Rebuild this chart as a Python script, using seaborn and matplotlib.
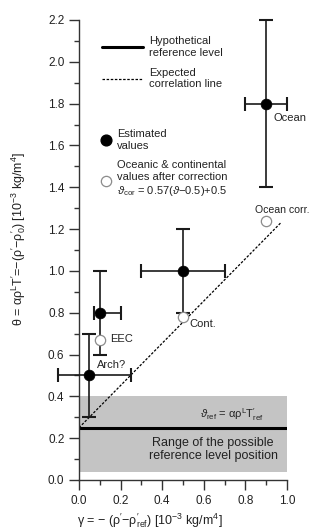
import matplotlib
matplotlib.use("Agg")
import matplotlib.pyplot as plt
import seaborn as sns
import pandas as pd
from matplotlib.ticker import MultipleLocator

# ---- data ----
names = ["Ocean", "Cont.", "EEC", "Arch?"]
gamma = [0.9, 0.5, 0.1, 0.05]
theta = [1.8, 1.0, 0.8, 0.5]
gamma_lo = [0.8, 0.3, 0.07, -0.1]
gamma_hi = [1.0, 0.7, 0.2, 0.25]
theta_lo = [1.4, 0.8, 0.6, 0.3]
theta_hi = [2.2, 1.2, 1.0, 0.7]

corr_names = ["Ocean corr.", "Cont.", "EEC"]
corr_gamma = [0.9, 0.5, 0.1]
corr_theta = [1.24, 0.78, 0.67]

ref_level = 0.25
band_lo, band_hi = 0.04, 0.40
corr_line_x = [0.0, 0.97]
corr_line_y = [0.25, 1.23]

x_ticks = [0.0, 0.2, 0.4, 0.6, 0.8, 1.0]
y_ticks = [0.0, 0.2, 0.4, 0.6, 0.8, 1.0, 1.2, 1.4, 1.6, 1.8, 2.0, 2.2]

sns.set_style("ticks")
plt.rcParams["font.family"] = ["Liberation Sans", "DejaVu Sans"]
plt.rcParams["mathtext.fontset"] = "custom"
plt.rcParams["mathtext.rm"] = "Liberation Sans"
plt.rcParams["mathtext.it"] = "Liberation Sans:italic"
plt.rcParams["mathtext.bf"] = "Liberation Sans:bold"

TXT = "#222222"
fig = plt.figure(figsize=(3.23, 5.29), dpi=100)
ax = fig.add_axes([79/323, 49/529, 208/323, 460/529])

# band and reference level
ax.fill_between([0, 1.0], band_lo, band_hi, color="#c4c4c4", lw=0, zorder=0)
ax.plot([0, 1.0], [ref_level, ref_level], color="black", lw=2.2, zorder=2)

# correlation line
ax.plot(corr_line_x, corr_line_y, color="black", lw=0.9, ls=(0, (2, 1.3)), zorder=2)

# error bars
df = pd.DataFrame({"name": names, "gamma": gamma, "theta": theta})
xerr = [[g - lo for g, lo in zip(gamma, gamma_lo)], [hi - g for g, hi in zip(gamma, gamma_hi)]]
yerr = [[t - lo for t, lo in zip(theta, theta_lo)], [hi - t for t, hi in zip(theta, theta_hi)]]
eb = ax.errorbar(gamma, theta, xerr=xerr, yerr=yerr, fmt="none", ecolor="#1a1a1a",
                 elinewidth=1.2, capsize=4.7, capthick=1.5, zorder=3)
for art in eb.lines[1]:
    art.set_clip_on(False)
for col in eb.lines[2]:
    col.set_clip_on(False)

# points
sns.scatterplot(data=df, x="gamma", y="theta", color="black", s=60, edgecolor="black",
                linewidth=0.5, zorder=4, ax=ax, legend=False, clip_on=False)
dfc = pd.DataFrame({"gamma": corr_gamma, "theta": corr_theta})
sns.scatterplot(data=dfc, x="gamma", y="theta", color="white", s=55, edgecolor="#8c8c8c",
                linewidth=0.9, zorder=4, ax=ax, legend=False)

# point labels
fs = 8
ax.text(0.935, 1.73, "Ocean", fontsize=fs, color=TXT, va="center", ha="left")
ax.text(0.846, 1.293, "Ocean corr.", fontsize=7.6, color=TXT, va="center", ha="left")
ax.text(0.53, 0.747, "Cont.", fontsize=fs, color=TXT, va="center", ha="left")
ax.text(0.149, 0.674, "EEC", fontsize=fs, color=TXT, va="center", ha="left")
ax.text(0.085, 0.551, "Arch?", fontsize=fs, color=TXT, va="center", ha="left")

# band texts
ax.text(0.582, 0.315,
        r"$\vartheta_{\mathrm{ref}}$ = $\mathrm{\alpha\rho}^{\mathrm{L}}\mathrm{T}^{\prime}_{\mathrm{ref}}$",
        fontsize=fs, color=TXT, va="center", ha="left")
ax.text(0.645, 0.146, "Range of the possible\nreference level position", fontsize=9,
        color=TXT, va="center", ha="center")

# legend (drawn manually)
ax.plot([0.11, 0.31], [2.07, 2.07], color="black", lw=2.2)
ax.text(0.337, 2.07, "Hypothetical\nreference level", fontsize=fs, color=TXT, va="center", ha="left")
ax.plot([0.11, 0.31], [1.92, 1.92], color="black", lw=0.9, ls=(0, (2, 1.3)))
ax.text(0.337, 1.92, "Expected\ncorrelation line", fontsize=fs, color=TXT, va="center", ha="left")
ax.scatter([0.13], [1.625], s=60, color="black", zorder=4)
ax.text(0.181, 1.626, "Estimated\nvalues", fontsize=fs, color=TXT, va="center", ha="left")
ax.scatter([0.13], [1.432], s=55, facecolor="white", edgecolor="#8c8c8c", linewidth=0.9, zorder=4)
ax.text(0.181, 1.44,
        "Oceanic & continental\nvalues after correction\n" +
        r"$\vartheta_{\mathrm{cor}}$ = 0.57($\vartheta$$-$0.5)+0.5",
        fontsize=fs, color=TXT, va="center", ha="left")

# axes
ax.set_xlim(0, 1.0)
ax.set_ylim(0, 2.2)
ax.set_xticks(x_ticks)
ax.set_yticks(y_ticks)
ax.set_xticklabels([f"{v:.1f}" for v in x_ticks])
ax.set_yticklabels([f"{v:.1f}" for v in y_ticks])
ax.xaxis.set_minor_locator(MultipleLocator(0.1))
ax.yaxis.set_minor_locator(MultipleLocator(0.1))
ax.tick_params(which="major", direction="out", length=7, width=1.0, labelsize=8.5,
               colors="#333333", labelcolor=TXT)
ax.tick_params(which="minor", direction="out", length=3.5, width=1.0, colors="#333333")
for s in ["top", "right"]:
    ax.spines[s].set_visible(False)
for s in ["left", "bottom"]:
    ax.spines[s].set_color("#333333")
    ax.spines[s].set_linewidth(1.0)

ax.set_xlabel(r"$\mathrm{\gamma}$ = $-$ ($\mathrm{\rho}^{\prime}$$-$$\mathrm{\rho}^{\prime}_{\mathrm{ref}}$) [10$^{-3}$ kg/m$^{4}$]",
              fontsize=9, color=TXT)
ax.set_ylabel(r"$\mathrm{\theta}$ = $\mathrm{\alpha\rho}^{\mathrm{L}}\mathrm{T}^{\prime}$=$-$($\mathrm{\rho}^{\prime}$$-$$\mathrm{\rho}^{\prime}_{0}$) [10$^{-3}$ kg/m$^{4}$]",
              fontsize=9, color=TXT)
ax.xaxis.set_label_coords((150 - 79) / 208, -0.068)
ax.yaxis.set_label_coords(-0.245, 0.524)

fig.savefig("out.png", dpi=100)
